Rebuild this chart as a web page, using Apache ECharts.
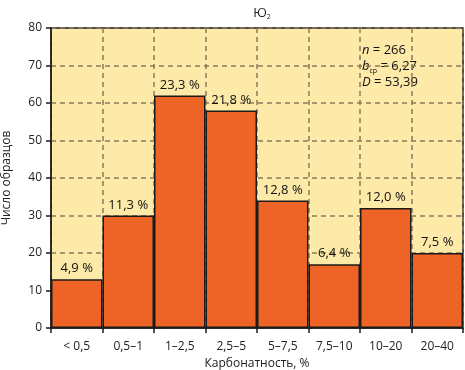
<!DOCTYPE html>
<html><head><meta charset="utf-8">
<script src="https://cdn.jsdelivr.net/npm/echarts@6/dist/echarts.min.js"></script>
<style>html,body{margin:0;padding:0;background:#fff}#c{width:465px;height:370px}</style>
</head><body><div id="c"></div>
<script>
const categories = ['< 0,5','0,5–1','1–2,5','2,5–5','5–7,5','7,5–10','10–20','20–40'];
const counts = [13, 30, 62, 58, 34, 17, 32, 20];
const percents = ['4,9 %','11,3 %','23,3 %','21,8 %','12,8 %','6,4 %','12,0 %','7,5 %'];
const yTicks = [0, 10, 20, 30, 40, 50, 60, 70, 80];

const FONT = 'Open Sans';
const chart = echarts.init(document.getElementById('c'), null, {renderer: 'canvas'});
chart.setOption({
  animation: false,
  textStyle: {fontFamily: FONT},
  title: {
    text: '{a|Ю}{s|2}', left: 257, top: 2, textAlign: 'center',
    textStyle: {fontWeight: 'normal', rich: {a: {fontSize: 13, fontWeight: 'normal', color: '#222', fontFamily: FONT}, s: {fontSize: 7, fontWeight: 'normal', color: '#222', verticalAlign: 'bottom', padding: [6,0,0,0], fontFamily: FONT}}}
  },
  grid: {left: 51, right: 2, top: 28, bottom: 42, outerBoundsMode: 'none', containLabel: false,
    backgroundColor: '#fde9a8', show: true, borderColor: '#1a1a1a', borderWidth: 1.5},
  xAxis: {
    type: 'category', data: categories, boundaryGap: true,
    name: 'Карбонатность, %', nameLocation: 'middle', nameGap: 28,
    nameTextStyle: {fontSize: 12, color: '#222'},
    axisLine: {lineStyle: {color: '#1a1a1a', width: 1.5}},
    axisTick: {show: true, alignWithLabel: false, length: 5, lineStyle: {color: '#1a1a1a', width: 1.5}},
    axisLabel: {fontSize: 12, color: '#222', margin: 13},
    splitLine: {show: true, lineStyle: {type: [5, 4], color: '#8a7a5a', width: 1.5}}
  },
  yAxis: {
    type: 'value', min: yTicks[0], max: yTicks[yTicks.length - 1], interval: 10,
    name: 'Число образцов', nameLocation: 'middle', nameGap: 38,
    nameTextStyle: {fontSize: 12, color: '#222'},
    axisLine: {show: true, lineStyle: {color: '#1a1a1a', width: 1.5}},
    axisTick: {show: true, length: 5, lineStyle: {color: '#1a1a1a', width: 1.5}},
    axisLabel: {fontSize: 12, color: '#222', margin: 9},
    splitLine: {show: true, lineStyle: {type: [5, 4], color: '#8a7a5a', width: 1.5}}
  },
  series: [{
    type: 'bar', data: counts, barCategoryGap: '0%',
    itemStyle: {color: '#ee6427', borderColor: '#1a1a1a', borderWidth: 1.5},
    label: {show: true, position: 'top', distance: 4, fontSize: 13, color: '#111',
      formatter: p => percents[p.dataIndex]}
  }],
  graphic: [{
    type: 'text', left: 362, top: 42,
    style: {
      text: '{i|n} = 266\n{i|b}{s|ср} = 6,27\n{i|D} = 53,39',
      fontFamily: FONT, fontSize: 13, fill: '#111', lineHeight: 16,
      rich: {
        i: {fontStyle: 'italic', fontSize: 13, fontFamily: FONT, fill: '#111'},
        s: {fontSize: 7, fontFamily: FONT, verticalAlign: 'bottom', padding: [8,0,0,0], fill: '#111'}
      }
    }
  }]
});
</script></body></html>
